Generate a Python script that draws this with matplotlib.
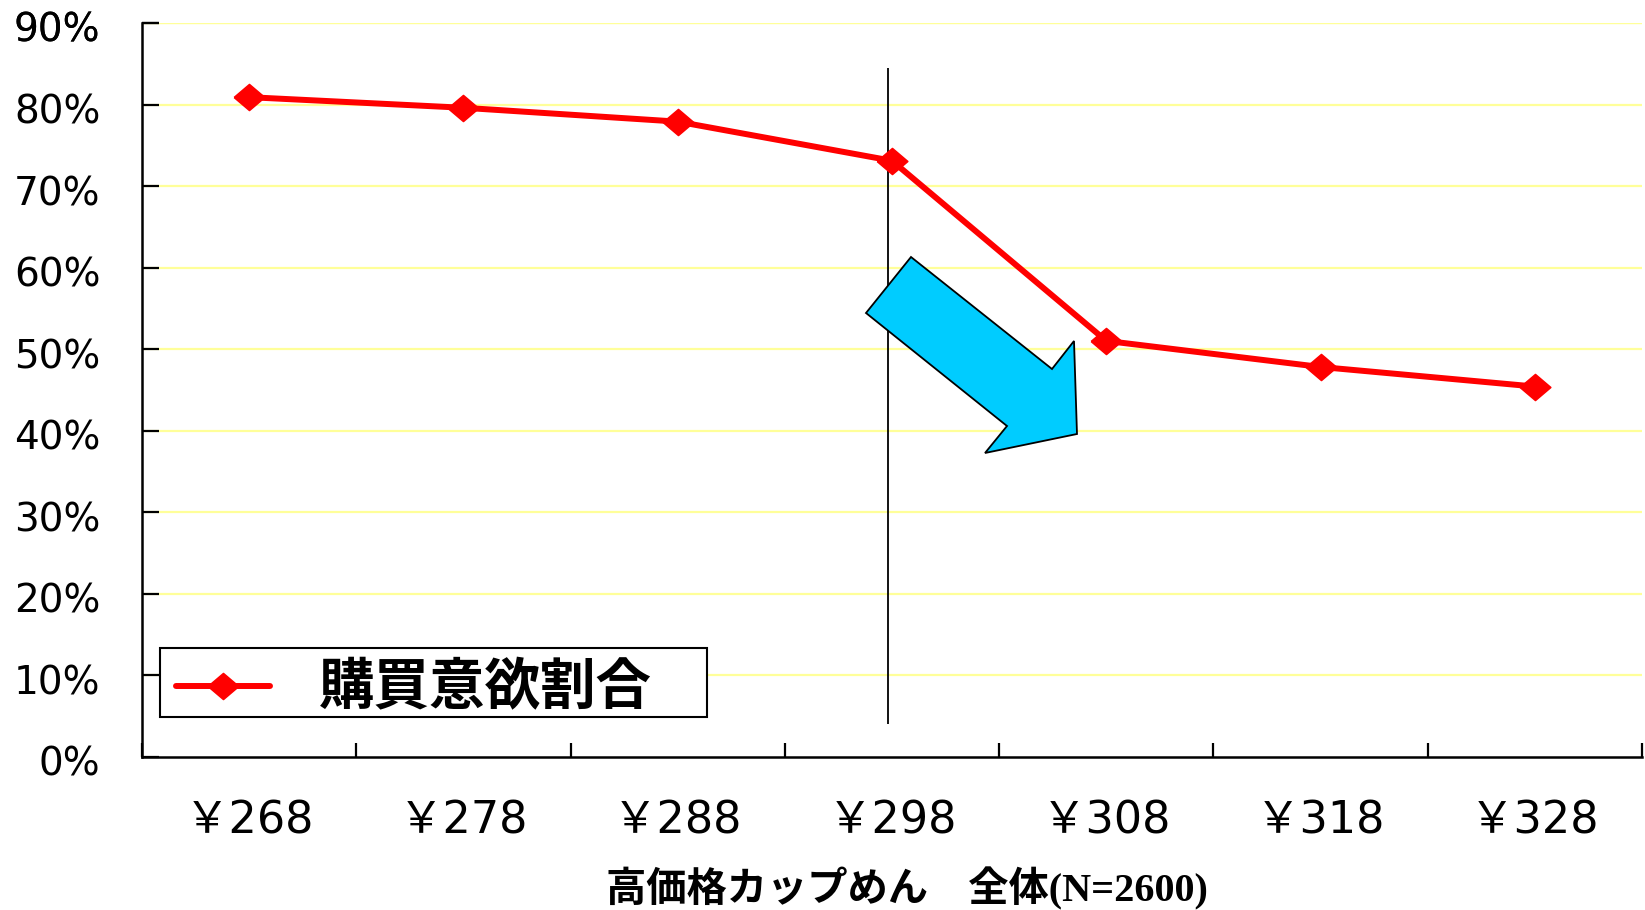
import matplotlib
matplotlib.use("Agg")
import matplotlib.pyplot as plt
import matplotlib.transforms as mtransforms
from matplotlib.patches import Polygon, Rectangle
from matplotlib.lines import Line2D

# ── data ─────────────────────────────────────
prices = ["￥268", "￥278", "￥288", "￥298", "￥308", "￥318", "￥328"]
purchase_rate = [80.9, 79.6, 77.9, 73.1, 51.0, 47.8, 45.4]
series_name = "購買意欲割合"
x_title = "高価格カップめん　全体(N=2600)"
y_ticks = list(range(0, 100, 10))

RED = "#FF0000"
# slightly wide diamond, like the original
DIAMOND = [(-1, 0), (0, 0.85), (1, 0), (0, -0.85), (-1, 0)]

# ── figure ───────────────────────────────────
W, H = 1645, 910
fig = plt.figure(figsize=(W / 100, H / 100), dpi=100)
ax = fig.add_axes([142 / W, 1 - 756.6 / H, 1500 / W, (756.6 - 23) / H])

x = list(range(len(prices)))
ax.plot(x, purchase_rate, color=RED, lw=4.3, marker=DIAMOND, ms=22, mew=1.2,
        mec=RED, mfc=RED, zorder=4, label=series_name, clip_on=False)

ax.set_xlim(-0.5, len(prices) - 0.5)
ax.set_ylim(0, 90)

# pale yellow gridlines
for v in y_ticks[1:]:
    ax.axhline(v, color="#FFFF99", lw=1.6, zorder=1)
ax.axhline(90, color="#FFFF99", lw=1.6, zorder=1)

ax.set_yticks(y_ticks + [90])
ax.set_yticklabels([f"{v}%" for v in y_ticks + [90]], fontsize=28,
                   family="DejaVu Sans")
ax.tick_params(axis="y", direction="in", length=12, width=1.6, pad=30)
shift = mtransforms.ScaledTranslation(0, -4 / 100, fig.dpi_scale_trans)
for lab in ax.get_yticklabels():
    lab.set_transform(lab.get_transform() + shift)

# x: ticks on the category borders, labels in the middle
ax.set_xticks([i - 0.5 for i in range(len(prices) + 1)])
ax.set_xticklabels([])
ax.set_xticks(x, minor=True)
ax.set_xticklabels(prices, minor=True, fontsize=32,
                   family=["DejaVu Sans", "Noto Sans CJK JP"])
ax.tick_params(axis="x", which="major", direction="in", length=10, width=1.6)
ax.tick_params(axis="x", which="minor", length=0, pad=31)

for s in ["top", "right"]:
    ax.spines[s].set_visible(False)
for s in ["left", "bottom"]:
    ax.spines[s].set_linewidth(1.8)
    ax.spines[s].set_color("black")

# vertical reference line
ax.vlines(2.98, 4, 84.5, color="black", lw=1.3, zorder=3)

# ── legend box (drawn by hand, figure pixels) ──
def fx(px):
    return px / W

def fy(py):
    return 1 - py / H

frame = Rectangle((fx(160), fy(717)), fx(707) - fx(160), fy(648) - fy(717),
                  transform=fig.transFigure, facecolor="white",
                  edgecolor="black", lw=1.5, zorder=6)
fig.patches.append(frame)
fig.lines.append(Line2D([fx(176), fx(270)], [fy(686), fy(686)],
                        transform=fig.transFigure, color=RED, lw=4.3,
                        solid_capstyle="round", zorder=7))
fig.lines.append(Line2D([fx(223)], [fy(686)], transform=fig.transFigure,
                        marker=DIAMOND, ms=22, mew=1.2, mec=RED, mfc=RED,
                        ls="none", zorder=8))
fig.text(fx(485), fy(688), series_name, ha="center", va="center",
         fontsize=40, fontweight="bold", family="Noto Sans CJK JP", zorder=8)

# blue arrow (figure pixels)
arrow_px = [(911, 257), (866, 313), (1007, 426), (985, 453),
            (1077, 434), (1074, 341), (1052, 369)]
arrow = Polygon([(fx(px), fy(py)) for px, py in arrow_px], closed=True,
                transform=fig.transFigure, facecolor="#00CCFF",
                edgecolor="black", lw=1.3, zorder=5)
fig.patches.append(arrow)

# x axis title
fig.text(fx(907), fy(889), x_title, ha="center", va="center",
         fontsize=29, fontweight="bold",
         family=["Liberation Serif", "Noto Sans CJK JP"])

plt.savefig("out.png", dpi=100)
